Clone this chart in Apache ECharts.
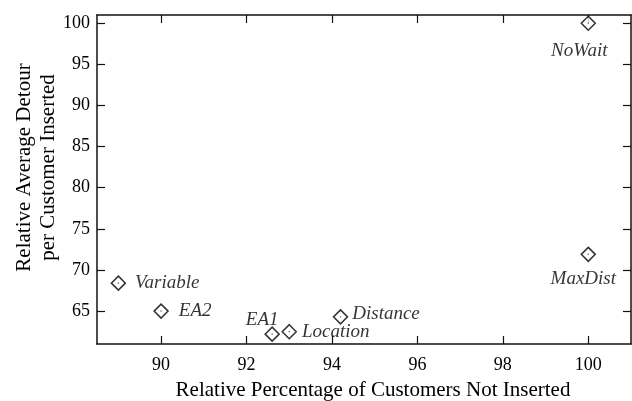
<!DOCTYPE html>
<html><head><meta charset="utf-8">
<script src="https://cdn.jsdelivr.net/npm/echarts@6/dist/echarts.min.js"></script>
<style>html,body{margin:0;padding:0;background:#fff}#c{width:632px;height:401px}</style>
</head><body><div id="c"></div>
<script>
const names = ['Variable','EA2','EA1','Location','Distance','MaxDist','NoWait'];
const xValues = [89.0, 90.0, 92.6, 93.0, 94.2, 100.0, 100.0];
const yValues = [68.4, 65.0, 62.2, 62.5, 64.3, 71.9, 100.0];
const xTicks = [90, 92, 94, 96, 98, 100];
const yTicks = [65, 70, 75, 80, 85, 90, 95, 100];

const FONT = 'Liberation Serif';
const labelStyle = {
  Variable: {position: 'right', distance: 9},
  EA2: {position: 'right', distance: 10},
  EA1: {position: 'top', distance: 0, offset: [-10, 3]},
  Location: {position: 'right', distance: 5},
  Distance: {position: 'right', distance: 4, offset: [0, -3]},
  MaxDist: {position: 'bottom', distance: 7, offset: [-5, 0]},
  NoWait: {position: 'bottom', distance: 11, offset: [-9, 0]}
};
const data = names.map((n, i) => ({
  value: [xValues[i], yValues[i]],
  name: n,
  label: Object.assign({show: true, formatter: n}, labelStyle[n])
}));
const dots = names.map((n, i) => [xValues[i], yValues[i]]);

const axisCommon = {
  axisLine: {show: true, onZero: false, lineStyle: {color: '#111', width: 1.5}},
  splitLine: {show: false},
  axisTick: {show: true, inside: true, length: 8, lineStyle: {color: '#111', width: 1.2}},
};
const chart = echarts.init(document.getElementById('c'));
chart.setOption({
  animation: false,
  backgroundColor: '#fff',
  grid: {left: 97, top: 15, right: 1, bottom: 57, outerBoundsMode: 'none', containLabel: false},
  xAxis: [
    Object.assign({}, axisCommon, {
      type: 'value', min: 88.5, max: 101, position: 'bottom',
      axisTick: Object.assign({}, axisCommon.axisTick, {customValues: xTicks}),
      axisLabel: {customValues: xTicks, color: '#000', fontFamily: FONT, fontSize: 18, margin: 12},
      name: 'Relative Percentage of Customers Not Inserted', nameLocation: 'middle', nameGap: 36,
      nameMoveOverlap: false,
      nameTextStyle: {color: '#000', fontFamily: FONT, fontSize: 21, padding: [0, 0, 0, 18]}
    }),
    Object.assign({}, axisCommon, {
      type: 'value', min: 88.5, max: 101, position: 'top',
      axisTick: Object.assign({}, axisCommon.axisTick, {customValues: xTicks}),
      axisLabel: {show: false}
    })
  ],
  yAxis: [
    Object.assign({}, axisCommon, {
      type: 'value', min: 61, max: 101, position: 'left',
      axisTick: Object.assign({}, axisCommon.axisTick, {customValues: yTicks}),
      axisLabel: {customValues: yTicks, color: '#000', fontFamily: FONT, fontSize: 18, margin: 7},
      name: 'Relative Average Detour\nper Customer Inserted', nameLocation: 'middle', nameGap: 37,
      nameMoveOverlap: false,
      nameTextStyle: {color: '#000', fontFamily: FONT, fontSize: 21, lineHeight: 24, padding: [0, 0, 0, 24]}
    }),
    Object.assign({}, axisCommon, {
      type: 'value', min: 61, max: 101, position: 'right',
      axisTick: Object.assign({}, axisCommon.axisTick, {customValues: yTicks}),
      axisLabel: {show: false}
    })
  ],
  series: [
    {
      type: 'scatter', xAxisIndex: 0, yAxisIndex: 0,
      symbol: 'diamond', symbolSize: 14,
      itemStyle: {color: '#fff', borderColor: '#000', borderWidth: 1.5},
      label: {color: '#000', fontFamily: FONT, fontStyle: 'italic', fontSize: 19},
      data: data, z: 3
    },
    {
      type: 'scatter', xAxisIndex: 0, yAxisIndex: 0,
      symbol: 'circle', symbolSize: 1.6,
      itemStyle: {color: '#555'}, silent: true,
      data: dots, z: 4
    }
  ]
});
</script></body></html>
